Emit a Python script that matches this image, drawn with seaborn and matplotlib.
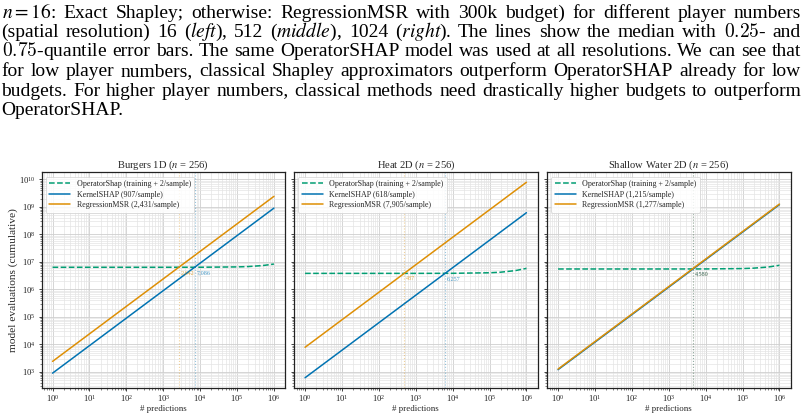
import numpy as np
import pandas as pd
import matplotlib
matplotlib.use("Agg")
import matplotlib.pyplot as plt
from matplotlib.ticker import LogLocator, NullFormatter
import seaborn as sns

# caption text (one entry per printed line)
caption_lines = [
    r"$n=16$: Exact Shapley; otherwise: RegressionMSR with 300k budget) for different player numbers",
    r"(spatial resolution) 16 ($\mathit{left}$), 512 ($\mathit{middle}$), 1024 ($\mathit{right}$). The lines show the median with $0.25$- and",
    r"$0.75$-quantile error bars. The same OperatorSHAP model was used at all resolutions. We can see that",
    "for low player numbers, classical Shapley approximators outperform OperatorSHAP already for low",
    "budgets. For higher player numbers, classical methods need drastically higher budgets to outperform",
    "OperatorSHAP.",
]

# data
titles = ["Burgers 1D", "Heat 2D", "Shallow Water 2D"]
kernel_per_sample = ["907", "618", "1,215"]
msr_per_sample = ["2,431", "7,905", "1,277"]

predictions = [1, 1e1, 1e2, 1e3, 1e4, 1e5, 2e5, 5e5, 1e6]

operator_evals = [
    [6.41e6, 6.41e6, 6.41e6, 6.412e6, 6.43e6, 6.61e6, 6.81e6, 7.41e6, 8.41e6],
    [3.85e6, 3.85e6, 3.85e6, 3.852e6, 3.87e6, 4.05e6, 4.25e6, 4.85e6, 5.85e6],
    [5.56e6, 5.56e6, 5.56e6, 5.562e6, 5.58e6, 5.76e6, 5.96e6, 6.56e6, 7.56e6],
]
kernel_evals = [
    [907, 9.07e3, 9.07e4, 9.07e5, 9.07e6, 9.07e7, 1.814e8, 4.535e8, 9.07e8],
    [618, 6.18e3, 6.18e4, 6.18e5, 6.18e6, 6.18e7, 1.236e8, 3.09e8, 6.18e8],
    [1215, 1.215e4, 1.215e5, 1.215e6, 1.215e7, 1.215e8, 2.43e8, 6.075e8, 1.215e9],
]
msr_evals = [
    [2431, 2.431e4, 2.431e5, 2.431e6, 2.431e7, 2.431e8, 4.862e8, 1.2155e9, 2.431e9],
    [7905, 7.905e4, 7.905e5, 7.905e6, 7.905e7, 7.905e8, 1.581e9, 3.9525e9, 7.905e9],
    [1277, 1.277e4, 1.277e5, 1.277e6, 1.277e7, 1.277e8, 2.554e8, 6.385e8, 1.277e9],
]
kernel_cross = [7086, 6257, 4580]
msr_cross = [2642, 487, 4580]
training_level = [6.41e6, 3.85e6, 5.56e6]

green, blue, orange = "#029e73", "#0173b2", "#de8f05"

sns.set_theme(style="ticks")
plt.rcParams["font.family"] = ["Liberation Serif", "DejaVu Serif"]
plt.rcParams["mathtext.fontset"] = "stix"

W, H = 805, 416
fig = plt.figure(figsize=(W / 100, H / 100), dpi=100)
renderer = fig.canvas.get_renderer()

# justified caption
left_px, right_px = 1.5, 801.0
for i, line in enumerate(caption_lines):
    words = line.split(" ")
    baseline = 17.5 + i * 19.5
    texts = []
    for w in words:
        mff = "cm" if ("0.25" in w or "0.75" in w) else "stix"
        t = fig.text(0, 1 - baseline / H, w, fontsize=14, va="baseline",
                     ha="left", color="black", math_fontfamily=mff)
        texts.append(t)
    widths = [t.get_window_extent(renderer).width for t in texts]
    if i < len(caption_lines) - 1 and len(words) > 1:
        gap = (right_px - left_px - sum(widths)) / (len(words) - 1)
    else:
        gap = 4.7
    x = left_px
    for t, wd in zip(texts, widths):
        t.set_x(x / W)
        x += wd + gap

# panels
lefts = [41.5, 294.0, 547.0]
ax_w, ax_h = 243.5, 215.0
ax_bottom = 387.5
axes = []
for k in range(3):
    rect = [lefts[k] / W, (H - ax_bottom) / H, ax_w / W, ax_h / H]
    ax = fig.add_axes(rect, sharey=axes[0] if axes else None)
    axes.append(ax)

for k, ax in enumerate(axes):
    df = pd.DataFrame({
        "predictions": predictions * 3,
        "evals": operator_evals[k] + kernel_evals[k] + msr_evals[k],
        "method": (["OperatorShap (training + 2/sample)"] * len(predictions)
                   + [f"KernelSHAP ({kernel_per_sample[k]}/sample)"] * len(predictions)
                   + [f"RegressionMSR ({msr_per_sample[k]}/sample)"] * len(predictions)),
    })
    labels = df["method"].unique()
    sns.lineplot(data=df, x="predictions", y="evals", hue="method", style="method",
                 palette=[green, blue, orange], hue_order=labels, style_order=labels,
                 dashes=[(3.7, 1.6), "", ""], lw=1.1, ax=ax)
    ax.set_xscale("log")
    ax.set_yscale("log")

    ax.axvline(msr_cross[k], color=orange, ls=":", lw=0.8, alpha=0.4, zorder=1)
    ax.axvline(kernel_cross[k], color=blue, ls=":", lw=0.8, alpha=0.4, zorder=1)
    lab_y = training_level[k] / 1.25
    ax.text(msr_cross[k] * 1.12, lab_y, f"{msr_cross[k]:,}", color=orange, alpha=0.7,
            fontsize=4.4, va="top", ha="left")
    ax.text(kernel_cross[k] * 1.12, lab_y, f"{kernel_cross[k]:,}", color=blue, alpha=0.7,
            fontsize=4.4, va="top", ha="left")

    ax.xaxis.set_major_locator(LogLocator(base=10, numticks=20))
    ax.xaxis.set_minor_locator(LogLocator(base=10, subs=np.arange(2, 10), numticks=20))
    ax.xaxis.set_minor_formatter(NullFormatter())
    ax.yaxis.set_major_locator(LogLocator(base=10, numticks=20))
    ax.yaxis.set_minor_locator(LogLocator(base=10, subs=np.arange(2, 10), numticks=20))
    ax.yaxis.set_minor_formatter(NullFormatter())
    ax.grid(which="major", color="#cfcfcf", lw=0.6)
    ax.grid(which="minor", color="#e4e4e4", lw=0.5)
    ax.set_axisbelow(True)

    ax.tick_params(which="major", labelsize=6.2, length=2.5, width=0.6, pad=1.5, colors="#222222")
    ax.tick_params(which="minor", length=1.4, width=0.4, colors="#222222")
    for s in ax.spines.values():
        s.set_linewidth(0.9)
        s.set_color("#222222")

    ax.set_title(f"{titles[k]} ($n$ = 256)", fontsize=7.6, pad=3)
    ax.set_xlabel("# predictions", fontsize=6.4, labelpad=0.8)
    if k == 0:
        ax.set_ylabel("model evaluations (cumulative)", fontsize=8.2, labelpad=1)
    else:
        ax.set_ylabel("")
        ax.tick_params(labelleft=False)

    leg = ax.legend(loc="upper left", fontsize=5.8, handlelength=2.6, frameon=True,
                    fancybox=True, framealpha=0.85, borderpad=0.45, labelspacing=0.3,
                    title=None)
    leg.get_frame().set_linewidth(0.5)
    leg.get_frame().set_edgecolor("#cccccc")

fig.savefig("out.png", dpi=100)
